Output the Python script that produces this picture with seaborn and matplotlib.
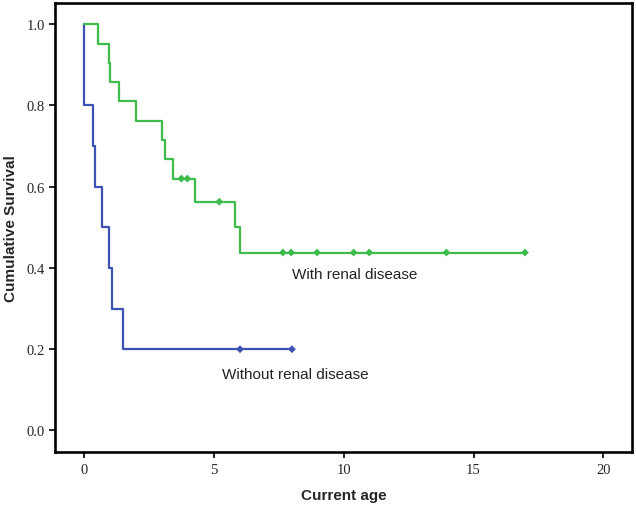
import pandas as pd
import matplotlib
matplotlib.use('Agg')
import matplotlib.pyplot as plt
import seaborn as sns

# values (Kaplan-Meier style step curves)
without_times = [0, 0, 0.35, 0.42, 0.68, 0.95, 1.08, 1.5, 8]
without_surv = [1.0, 0.8, 0.7, 0.6, 0.5, 0.4, 0.3, 0.2, 0.2]
without_censor = [6, 8]

with_times = [0, 0.53, 0.95, 1.0, 1.34, 2.0, 2.99, 3.1, 3.42, 4.25, 5.79, 5.98, 17]
with_surv = [1.0, 0.952, 0.905, 0.858, 0.81, 0.762, 0.715, 0.667, 0.62, 0.563, 0.5, 0.438, 0.438]
with_censor = [3.74, 3.97, 5.2, 7.65, 7.97, 8.97, 10.38, 10.98, 13.95, 16.98]

x_ticks = [0, 5, 10, 15, 20]
y_ticks = [0.0, 0.2, 0.4, 0.6, 0.8, 1.0]

blue = '#3d52b5'
green = '#3dbb4b'


def step_value(times, surv, t):
    # survival level at time t for a right-continuous step curve
    val = surv[0]
    for ti, si in zip(times, surv):
        if ti <= t:
            val = si
    return val


curves = pd.concat([
    pd.DataFrame({'age': without_times, 'surv': without_surv, 'group': 'Without renal disease'}),
    pd.DataFrame({'age': with_times, 'surv': with_surv, 'group': 'With renal disease'}),
])
censors = pd.concat([
    pd.DataFrame({'age': without_censor,
                  'surv': [step_value(without_times, without_surv, t) for t in without_censor],
                  'group': 'Without renal disease'}),
    pd.DataFrame({'age': with_censor,
                  'surv': [step_value(with_times, with_surv, t) for t in with_censor],
                  'group': 'With renal disease'}),
])
palette = {'Without renal disease': blue, 'With renal disease': green}

sns.set_style('ticks')
plt.rcParams['font.family'] = ['Liberation Sans', 'DejaVu Sans']

fig = plt.figure(figsize=(6.36, 5.1), dpi=100)
ax = fig.add_axes([0.0865, 0.111, 0.907, 0.881])

for name, grp in curves.groupby('group', sort=False):
    sns.lineplot(data=grp, x='age', y='surv', ax=ax, color=palette[name],
                 drawstyle='steps-post', estimator=None, sort=False,
                 linewidth=1.6, legend=False)
sns.scatterplot(data=censors, x='age', y='surv', hue='group', palette=palette,
                marker='D', s=16, linewidth=0, ax=ax, legend=False, zorder=3)

ax.text(7.99, 0.385, 'With renal disease', fontsize=11, color='#222222', va='center', ha='left')
ax.text(5.29, 0.139, 'Without renal disease', fontsize=11, color='#222222', va='center', ha='left')

ax.set_xlim(-1.13, 21.1)
ax.set_ylim(-0.054, 1.052)
ax.set_xticks(x_ticks)
ax.set_yticks(y_ticks)
ax.set_xticklabels([str(v) for v in x_ticks], family='Liberation Serif', fontsize=10.5)
ax.set_yticklabels(['%.1f' % v for v in y_ticks], family='Liberation Serif', fontsize=10.5)
ax.tick_params(length=4.5, width=1.2, color='black', pad=3)
for sp in ax.spines.values():
    sp.set_linewidth(1.9)
    sp.set_color('black')

ax.set_xlabel('Current age', fontsize=11, fontweight='bold', labelpad=9)
ax.set_ylabel('Cumulative Survival', fontsize=11, fontweight='bold', labelpad=6)

fig.savefig('out.png', dpi=100)
